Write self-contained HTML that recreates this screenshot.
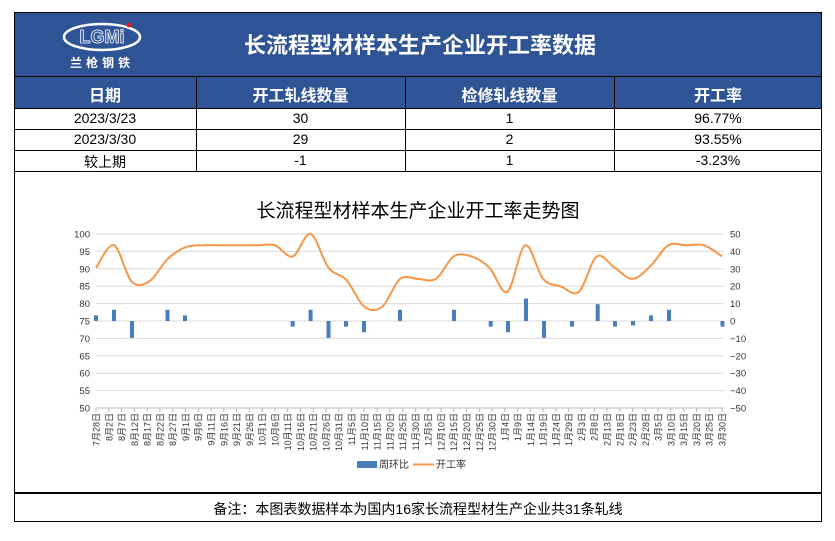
<!DOCTYPE html>
<html><head><meta charset="utf-8"><style>
body{margin:0;background:#fff;width:835px;height:541px;overflow:hidden;font-family:"Liberation Sans","Noto Sans CJK SC",sans-serif;}
.abs{position:absolute;}
#box{position:absolute;left:14px;top:12px;width:808px;height:510px;border:1.5px solid #000;box-sizing:border-box;}
.hdr{background:#2f5496;color:#fff;}
.cell{position:absolute;text-align:center;box-sizing:border-box;}
</style></head><body>
<div id="box"></div>
<div class="abs hdr" style="left:15px;top:13px;width:806px;height:63px;"></div>
<div class="abs hdr" style="left:15px;top:77px;width:806px;height:31px;"></div>
<div class="abs" style="left:14px;top:76px;width:808px;height:1px;background:#000"></div>
<div class="abs" style="left:14px;top:108px;width:808px;height:1px;background:#000"></div>
<div class="abs" style="left:14px;top:129px;width:808px;height:1px;background:#000"></div>
<div class="abs" style="left:14px;top:150px;width:808px;height:1px;background:#000"></div>
<div class="abs" style="left:14px;top:171px;width:808px;height:1px;background:#000"></div>
<div class="abs" style="left:14px;top:492px;width:808px;height:1.5px;background:#000"></div>
<div class="abs" style="left:196px;top:76px;width:1px;height:95px;background:#000"></div>
<div class="abs" style="left:405px;top:76px;width:1px;height:95px;background:#000"></div>
<div class="abs" style="left:614px;top:76px;width:1px;height:95px;background:#000"></div>
<svg class="abs" style="left:60px;top:20px" width="85" height="52">
<ellipse cx="42" cy="17" rx="38" ry="13" fill="none" stroke="#fff" stroke-width="2.5"/>
<text x="42" y="23" text-anchor="middle" font-family="Liberation Sans" font-weight="bold" font-size="18" fill="#2f5496" stroke="#fff" stroke-width="0.8">LGMi</text>
<circle cx="69" cy="5" r="2.5" fill="#e02020"/>
<text x="42" y="47" text-anchor="middle" font-family="Noto Sans CJK SC" font-size="12" font-weight="bold" fill="#fff" letter-spacing="4">兰枪钢铁</text>
</svg>
<div class="abs" style="left:150px;top:28px;width:540px;text-align:center;color:#fff;font-size:22px;font-weight:bold;">长流程型材样本生产企业开工率数据</div>
<div class="cell" style="left:14px;top:82px;width:182px;color:#fff;font-size:16px;font-weight:bold">日期</div>
<div class="cell" style="left:196px;top:82px;width:209px;color:#fff;font-size:16px;font-weight:bold">开工轧线数量</div>
<div class="cell" style="left:405px;top:82px;width:209px;color:#fff;font-size:16px;font-weight:bold">检修轧线数量</div>
<div class="cell" style="left:614px;top:82px;width:208px;color:#fff;font-size:16px;font-weight:bold">开工率</div>
<div style="font-size:14px;">
<div class="cell" style="left:14px;top:110px;width:182px">2023/3/23</div>
<div class="cell" style="left:196px;top:110px;width:209px">30</div>
<div class="cell" style="left:405px;top:110px;width:209px">1</div>
<div class="cell" style="left:614px;top:110px;width:208px">96.77%</div>
<div class="cell" style="left:14px;top:131px;width:182px">2023/3/30</div>
<div class="cell" style="left:196px;top:131px;width:209px">29</div>
<div class="cell" style="left:405px;top:131px;width:209px">2</div>
<div class="cell" style="left:614px;top:131px;width:208px">93.55%</div>
<div class="cell" style="left:14px;top:152px;width:182px">较上期</div>
<div class="cell" style="left:196px;top:152px;width:209px">-1</div>
<div class="cell" style="left:405px;top:152px;width:209px">1</div>
<div class="cell" style="left:614px;top:152px;width:208px">-3.23%</div>
</div>
<div class="abs" style="left:14px;top:196px;width:808px;text-align:center;font-size:19px;">长流程型材样本生产企业开工率走势图</div>
<svg id="ch" class="abs" style="left:0;top:0" width="835" height="541"></svg>
<div class="abs" style="left:14px;top:499px;width:808px;text-align:center;font-size:14px;">备注：本图表数据样本为国内16家长流程型材生产企业共31条轧线</div>
<script>
var s='';
var y0=234,dy=17.4;
for(var i=0;i<=10;i++){var y=y0+i*dy;
s+='<line x1="96" x2="724" y1="'+y+'" y2="'+y+'" stroke="#d9d9d9"/>';
s+='<text x="90" y="'+(y+3.5)+'" font-size="9.5" text-anchor="end" fill="#333">'+(100-5*i)+'</text>';
var r=50-10*i;s+='<text x="730" y="'+(y+3.5)+'" font-size="9.5" fill="#333">'+(r<0?'−'+(-r):r)+'</text>';}
var m=[[7,31],[8,31],[9,30],[10,31],[11,30],[12,31],[1,31],[2,28],[3,31],[4,30]];
var labs=[],d=28,mi=0;
while(labs.length<50){labs.push(m[mi][0]+'月'+d+'日');d+=5;if(d>m[mi][1]){d-=m[mi][1];mi++;}}
for(var k=0;k<50;k++){var x=96+k*626/49;
s+='<line x1="'+x+'" x2="'+x+'" y1="408" y2="412" stroke="#bbb"/>';
s+='<text transform="translate('+(x+3.5)+',413) rotate(-90)" font-size="9" text-anchor="end" fill="#333">'+labs[k]+'</text>';}
s+='<line x1="96" x2="724" y1="408" y2="408" stroke="#bbb"/>';
var bars=[[96,3.23],[114,6.45],[132,-9.68],[167.5,6.45],[185,3.23],[292.7,-3.23],[310.6,6.45],[328.5,-9.68],[346,-3.23],[364,-6.45],[400,6.45],[454,6.45],[490.7,-3.23],[508,-6.45],[526,12.9],[544,-9.68],[572,-3.23],[597.7,9.68],[615,-3.23],[633,-2.5],[651,3.23],[669,6.45],[722.5,-3.23]];
var z=y0+5*dy;
bars.forEach(function(b){var h=b[1]*dy/10;s+='<rect x="'+(b[0]-2)+'" width="4" y="'+(h>0?z-h:z)+'" height="'+Math.abs(h)+'" fill="#4a7ebb"/>';});
var v=[90.3,96.77,86.3,86.5,92.8,96.2,96.77,96.77,96.77,96.77,96.77,93.55,100,90.3,86.8,79.1,79.1,87.1,87.1,87.1,93.55,93.55,90.3,83.4,96.77,87.1,84.9,83.4,93.55,90.3,87.1,90.8,96.77,96.77,96.77,93.55];
var p=v.map(function(a,i){return [96+i*17.886,y0+(100-a)*dy/5];});
var dd='M'+p[0][0]+','+p[0][1];
for(var i=0;i<p.length-1;i++){var a=p[Math.max(i-1,0)],b=p[i],c=p[i+1],e=p[Math.min(i+2,p.length-1)];
dd+=' C'+(b[0]+(c[0]-a[0])/6)+','+(b[1]+(c[1]-a[1])/6)+' '+(c[0]-(e[0]-b[0])/6)+','+(c[1]-(e[1]-b[1])/6)+' '+c[0]+','+c[1];}
s+='<path d="'+dd+'" fill="none" stroke="#f79646" stroke-width="2"/>';
s+='<rect x="357" y="461" width="20" height="7" fill="#4a7ebb"/><text x="379" y="468" font-size="10" fill="#333">周环比</text>';
s+='<line x1="413" x2="434" y1="464.5" y2="464.5" stroke="#f79646" stroke-width="2"/><text x="436" y="468" font-size="10" fill="#333">开工率</text>';
document.getElementById('ch').innerHTML=s;
</script>
</body></html>
